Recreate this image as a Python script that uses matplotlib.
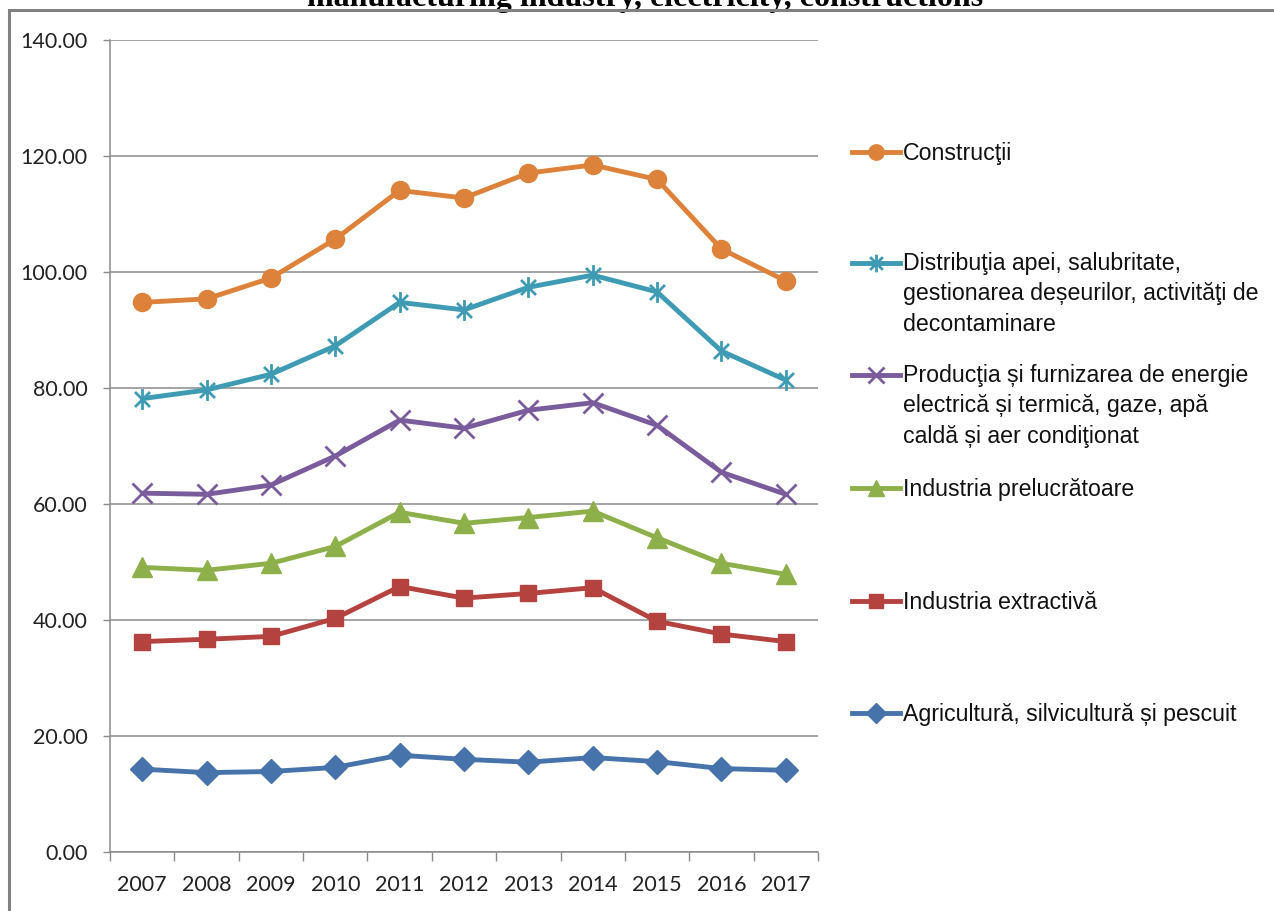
import matplotlib
matplotlib.use('Agg')
import matplotlib.pyplot as plt
from matplotlib.lines import Line2D
from matplotlib.path import Path
from matplotlib.patches import Rectangle
from matplotlib.ticker import FormatStrFormatter
import numpy as np

# ---------------- data ----------------
years = ['2007', '2008', '2009', '2010', '2011', '2012', '2013', '2014', '2015', '2016', '2017']

constructii   = [94.7, 95.3, 98.9, 105.6, 114.0, 112.7, 117.0, 118.4, 115.9, 103.9, 98.4]
distributia   = [78.1, 79.6, 82.3, 87.2, 94.7, 93.4, 97.3, 99.4, 96.5, 86.3, 81.3]
productia     = [61.8, 61.6, 63.2, 68.2, 74.4, 73.0, 76.1, 77.4, 73.5, 65.4, 61.6]
prelucratoare = [49.0, 48.5, 49.7, 52.6, 58.5, 56.6, 57.6, 58.7, 54.1, 49.7, 47.8]
extractiva    = [36.2, 36.6, 37.1, 40.2, 45.7, 43.7, 44.5, 45.5, 39.7, 37.5, 36.2]
agricultura   = [14.2, 13.6, 13.8, 14.5, 16.6, 15.9, 15.4, 16.2, 15.5, 14.3, 14.0]

labels = [
    'Construcţii',
    'Distribuţia apei, salubritate,\ngestionarea deșeurilor, activităţi de\ndecontaminare',
    'Producţia și furnizarea de energie\nelectrică și termică, gaze, apă\ncaldă și aer condiţionat',
    'Industria prelucrătoare',
    'Industria extractivă',
    'Agricultură, silvicultură și pescuit',
]
title = 'manufacturing industry, electricity, constructions'
yticks = [0, 20, 40, 60, 80, 100, 120, 140]

# ---------------- style ----------------
W, H = 1274, 911
plt.rcParams['font.family'] = ['Liberation Sans', 'DejaVu Sans']
TICKFONT = ['Lato', 'DejaVu Sans']

colors = ['#DD823A', '#3E9BB3', '#7A5B9C', '#8DB04A', '#B4423F', '#4673AA']

ast = Path([(0, -1), (0, 1), (-0.72, -0.72), (0.72, 0.72), (-0.72, 0.72), (0.72, -0.72)],
           [Path.MOVETO, Path.LINETO, Path.MOVETO, Path.LINETO, Path.MOVETO, Path.LINETO])

mstyles = [
    dict(marker='o', markersize=13),
    dict(marker=ast, markersize=15, markeredgewidth=2.0),
    dict(marker='x', markersize=14, markeredgewidth=2.0),
    dict(marker='^', markersize=14),
    dict(marker='s', markersize=11.5),
    dict(marker='D', markersize=12.5),
]

series = [constructii, distributia, productia, prelucratoare, extractiva, agricultura]

fig = plt.figure(figsize=(W / 100, H / 100), dpi=100)
ax = fig.add_axes([110 / W, 1 - 851.5 / H, 708 / W, (851.5 - 39.7) / H])

x = np.arange(len(years))
for vals, col, ms in reversed(list(zip(series, colors, mstyles))):
    ax.plot(x, vals, color=col, lw=3.5, markerfacecolor=col, markeredgecolor=col,
            solid_capstyle='round', solid_joinstyle='round', **ms)

ax.set_xlim(-0.5, len(years) - 0.5)
ax.set_ylim(0, 140)
ax.set_yticks(yticks)
ax.yaxis.set_major_formatter(FormatStrFormatter('%.2f'))
ax.set_xticks(x)
ax.set_xticklabels(years)
ax.set_xticks(np.arange(-0.5, len(years), 1.0), minor=True)
for lab in ax.get_xticklabels() + ax.get_yticklabels():
    lab.set_family(TICKFONT)

gray = '#8a8a8a'
ax.tick_params(axis='x', which='major', length=0, pad=17, labelsize=15.5, labelcolor='#222222')
ax.tick_params(axis='x', which='minor', length=6.5, width=1.0, color=gray, direction='out')
ax.tick_params(axis='y', which='major', length=5, width=1.0, color=gray, pad=11,
               labelsize=15.5, labelcolor='#222222')

ax.yaxis.grid(True, color=gray, lw=1.1)
ax.set_axisbelow(True)
for s in ['top', 'right']:
    ax.spines[s].set_visible(False)
for s in ['left', 'bottom']:
    ax.spines[s].set_color(gray)
    ax.spines[s].set_linewidth(1.1)

# ---------------- legend (manual, right side) ----------------
leg_y = [152, 263, 375, 488, 601, 713]
pitch = 30
for lab, col, ms, yy in zip(labels, colors, mstyles, leg_y):
    yf = 1 - yy / H
    ln = Line2D([852 / W, 876 / W, 900 / W], [yf, yf, yf], transform=fig.transFigure,
                color=col, lw=3.5, markerfacecolor=col, markeredgecolor=col,
                markevery=[1], **{k: (v * 0.85 if k == 'markersize' else v) for k, v in ms.items()})
    fig.add_artist(ln)
    nlines = lab.count('\n') + 1
    ybase_last = yy + 8 + (nlines - 1) * pitch
    fig.text(903 / W, 1 - ybase_last / H, lab, ha='left', va='baseline', fontsize=16.7,
             color='#111111', linespacing=1.42)

# ---------------- title (clipped at top) & frame ----------------
fig.text(645 / W, 1 - 6 / H, title, ha='center', va='baseline',
         family=['Liberation Serif', 'DejaVu Serif'], fontweight='bold', fontsize=23)

fig.add_artist(Rectangle((9 / W, -0.1), 1.2, 1.1 - 10.5 / H, transform=fig.transFigure,
                         fill=False, edgecolor='#808080', lw=2.2, clip_on=False, zorder=5))

fig.savefig('out.png', dpi=100)
